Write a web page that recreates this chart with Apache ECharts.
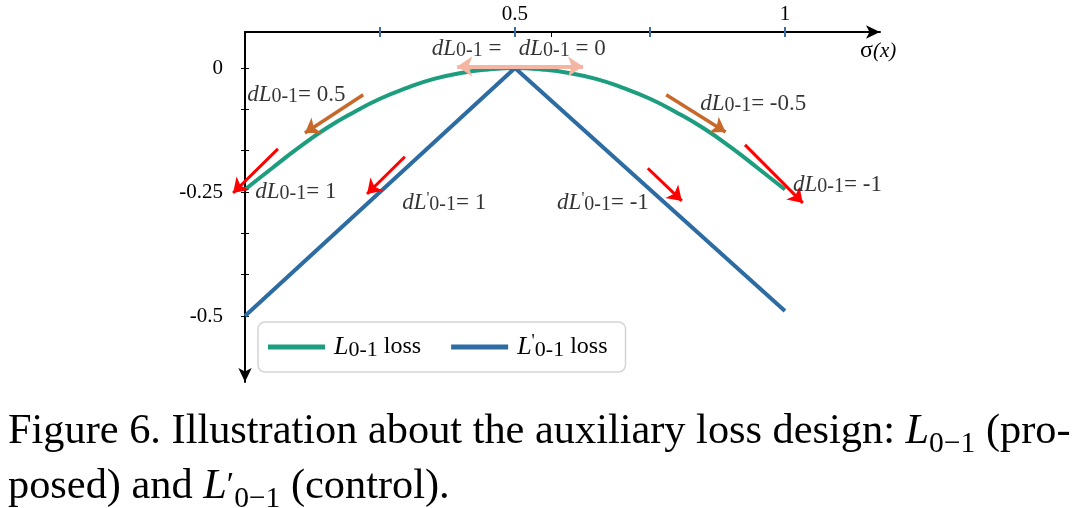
<!DOCTYPE html>
<html>
<head>
<meta charset="utf-8">
<script src="https://cdn.jsdelivr.net/npm/echarts@6/dist/echarts.min.js"></script>
<style>
html, body { margin: 0; padding: 0; background: #fff; }
#chart { width: 1080px; height: 508px; }
</style>
</head>
<body>
<div id="chart"></div>
<script>
// sigma(x) samples and the two loss curves
var sigmaX = [0, 0.05, 0.1, 0.15, 0.2, 0.25, 0.3, 0.35, 0.4, 0.45, 0.5, 0.55, 0.6, 0.65, 0.7, 0.75, 0.8, 0.85, 0.9, 0.95, 1];
var lossL01 = [-0.245, -0.202, -0.16, -0.122, -0.09, -0.062, -0.04, -0.022, -0.01, -0.003, 0, -0.003, -0.01, -0.022, -0.04, -0.062, -0.09, -0.122, -0.16, -0.202, -0.245];
var primeX = [0, 0.5, 1];
var lossPrime = [-0.5, 0, -0.49];

// ticks / labels
var xTicks = [0.25, 0.5, 0.75, 1];
var xExtraTicks = [0.568];
var xLabels = [0.5, 1];
var yTicks = [0, -0.0833, -0.1667, -0.25, -0.3333, -0.4167, -0.5];
var yLabels = [0, -0.25, -0.5];

// gradient arrows [x0, y0, x1, y1]
var redArrows = [
    [0.061, -0.163, -0.022, -0.252],
    [0.296, -0.179, 0.226, -0.254],
    [0.746, -0.202, 0.809, -0.268],
    [0.926, -0.155, 1.033, -0.272]
];
var brownArrows = [
    [0.219, -0.054, 0.111, -0.131],
    [0.780, -0.054, 0.890, -0.129]
];
var pinkArrow = [[0.393, 0.003, 0.626, 0.003]];

// annotations [x, y, text]
var notes = [
    [0.346, 0.038, '{d|dL}{s|0-1}{n| = }'],
    [0.507, 0.038, '{d|dL}{s|0-1}{n| = 0}'],
    [0.004, -0.054, '{d|dL}{s|0-1}{n|= 0.5}'],
    [0.843, -0.073, '{d|dL}{s|0-1}{n|= -0.5}'],
    [0.019, -0.25, '{d|dL}{s|0-1}{n|= 1}'],
    [0.291, -0.272, '{d|dL}{p|\'}{s|0-1}{n|= 1}'],
    [0.578, -0.272, '{d|dL}{p|\'}{s|0-1}{n|= -1}'],
    [1.015, -0.236, '{d|dL}{s|0-1}{n|= -1}']
];

var serif = '"Liberation Serif", "Times New Roman", serif';
var XMAX = 1.176, YMIN = -0.633, YMAX = 0.0726;

function pairs(xs, ys) {
    var out = [];
    for (var i = 0; i < xs.length; i++) {
        out.push([xs[i], ys[i]]);
    }
    return out;
}
function arrowData(list) {
    return list.map(function (a) {
        return {coords: [[a[0], a[1]], [a[2], a[3]]]};
    });
}

var noteRich = {
    d: {fontFamily: serif, fontStyle: 'italic', fontSize: 23, lineHeight: 24, color: '#000'},
    s: {fontFamily: serif, fontSize: 20, lineHeight: 11, verticalAlign: 'bottom', color: '#000'},
    p: {fontFamily: serif, fontSize: 16, lineHeight: 10, verticalAlign: 'top', color: '#000'},
    n: {fontFamily: serif, fontSize: 23, lineHeight: 24, color: '#000'}
};

var myChart = echarts.init(document.getElementById('chart'));
var option = {
    animation: false,
    backgroundColor: '#fff',
    grid: {left: 245, top: 32, width: 635, height: 350, containLabel: false},
    xAxis: [
        {
            type: 'value',
            position: 'top',
            min: 0,
            max: XMAX,
            axisLine: {
                show: true,
                onZero: false,
                symbol: ['none', 'arrow'],
                symbolSize: [10, 14],
                lineStyle: {color: '#000', width: 2}
            },
            axisTick: {show: true, customValues: xTicks, length: 5, lineStyle: {color: '#3a6ea5', width: 2}},
            axisLabel: {customValues: xLabels, margin: 7, fontFamily: serif, fontSize: 21, color: '#000'},
            splitLine: {show: false},
            name: '{a|σ}{b|(x)}',
            nameLocation: 'end',
            nameGap: -20,
            nameTextStyle: {
                padding: [38, 0, 0, 0],
                rich: {
                    a: {fontFamily: serif, fontSize: 24, color: '#000'},
                    b: {fontFamily: serif, fontStyle: 'italic', fontSize: 21, color: '#000'}
                }
            }
        },
        {
            type: 'value',
            position: 'top',
            min: 0,
            max: XMAX,
            axisLine: {show: false, onZero: false},
            axisTick: {show: true, inside: true, customValues: xTicks, length: 5, lineStyle: {color: '#3a6ea5', width: 2}},
            axisLabel: {show: false},
            splitLine: {show: false}
        },
        {
            type: 'value',
            position: 'top',
            min: 0,
            max: XMAX,
            axisLine: {show: false, onZero: false},
            axisTick: {show: true, inside: true, customValues: xExtraTicks, length: 5, lineStyle: {color: '#000', width: 1}},
            axisLabel: {show: false},
            splitLine: {show: false}
        }
    ],
    yAxis: [
        {
            type: 'value',
            position: 'left',
            min: YMIN,
            max: YMAX,
            axisLine: {
                show: true,
                onZero: false,
                symbol: ['arrow', 'none'],
                symbolSize: [10, 14],
                lineStyle: {color: '#000', width: 2}
            },
            axisTick: {show: true, customValues: yTicks, length: 4, lineStyle: {color: '#000', width: 1}},
            axisLabel: {
                customValues: yLabels,
                margin: 22,
                fontFamily: serif,
                fontSize: 21,
                color: '#000',
                formatter: function (v) { return String(v); }
            },
            splitLine: {show: false}
        },
        {
            type: 'value',
            position: 'left',
            min: YMIN,
            max: YMAX,
            axisLine: {show: false, onZero: false},
            axisTick: {show: true, inside: true, customValues: yTicks, length: 4, lineStyle: {color: '#000', width: 1}},
            axisLabel: {show: false},
            splitLine: {show: false}
        }
    ],
    legend: {
        left: 258,
        top: 322,
        orient: 'horizontal',
        padding: [11, 18, 11, 10],
        itemGap: 30,
        itemWidth: 57,
        itemHeight: 5,
        icon: 'rect',
        borderColor: '#d4d4d4',
        borderWidth: 1.5,
        borderRadius: 7,
        backgroundColor: '#fff',
        data: ['L01', 'L01p'],
        formatter: function (name) {
            return name === 'L01' ? '{i|L}{s|0-1}{n| loss}' : '{i|L}{p|\'}{s|0-1}{n| loss}';
        },
        textStyle: {
            padding: [0, 0, 0, 4],
            rich: {
                i: {fontFamily: serif, fontStyle: 'italic', fontSize: 26, lineHeight: 28, color: '#000'},
                s: {fontFamily: serif, fontSize: 22, lineHeight: 18, verticalAlign: 'bottom', color: '#000'},
                p: {fontFamily: serif, fontSize: 18, lineHeight: 12, verticalAlign: 'top', color: '#000'},
                n: {fontFamily: serif, fontSize: 24, lineHeight: 28, color: '#000'}
            }
        }
    },
    graphic: [
        {
            type: 'text',
            x: 8,
            y: 404,
            scaleX: 0.985,
            style: {
                text: 'Figure 6. Illustration about the auxiliary loss design: {i|L}{s|0−1} (pro-\nposed) and {i|L}{p|′}{s|0−1} (control).',
                font: '43px ' + serif,
                fill: '#000',
                lineHeight: 55,
                rich: {
                    i: {fontFamily: serif, fontStyle: 'italic', fontSize: 43, lineHeight: 55, color: '#000'},
                    s: {fontFamily: serif, fontSize: 30, lineHeight: 40, verticalAlign: 'bottom', color: '#000'},
                    p: {fontFamily: serif, fontSize: 34, lineHeight: 55, color: '#000'}
                }
            }
        }
    ],
    series: [
        {
            name: 'L01',
            type: 'line',
            data: pairs(sigmaX, lossL01),
            smooth: true,
            showSymbol: false,
            itemStyle: {color: '#1c9e7e'},
            lineStyle: {color: '#1c9e7e', width: 4},
            z: 2
        },
        {
            name: 'L01p',
            type: 'line',
            data: pairs(primeX, lossPrime),
            showSymbol: false,
            itemStyle: {color: '#2c6ca3'},
            lineStyle: {color: '#2c6ca3', width: 4},
            z: 3
        },
        {
            type: 'lines',
            coordinateSystem: 'cartesian2d',
            clip: false,
            data: arrowData(pinkArrow),
            symbol: ['arrow', 'arrow'],
            symbolSize: 15,
            lineStyle: {color: '#f4b6a3', width: 4, opacity: 1},
            z: 4
        },
        {
            type: 'lines',
            coordinateSystem: 'cartesian2d',
            clip: false,
            data: arrowData(brownArrows),
            symbol: ['none', 'arrow'],
            symbolSize: 14,
            lineStyle: {color: '#c8692b', width: 3.5, opacity: 1},
            z: 4
        },
        {
            type: 'lines',
            coordinateSystem: 'cartesian2d',
            clip: false,
            data: arrowData(redArrows),
            symbol: ['none', 'arrow'],
            symbolSize: 14,
            lineStyle: {color: '#ff0000', width: 3, opacity: 1},
            z: 4
        },
        {
            type: 'scatter',
            data: notes.map(function (n) { return {value: [n[0], n[1]], text: n[2]}; }),
            symbolSize: 0,
            silent: true,
            clip: false,
            label: {
                show: true,
                position: 'right',
                distance: 0,
                color: '#000',
                formatter: function (p) { return p.data.text; },
                rich: noteRich
            },
            z: 6
        }
    ]
};
myChart.setOption(option);
</script>
</body>
</html>
